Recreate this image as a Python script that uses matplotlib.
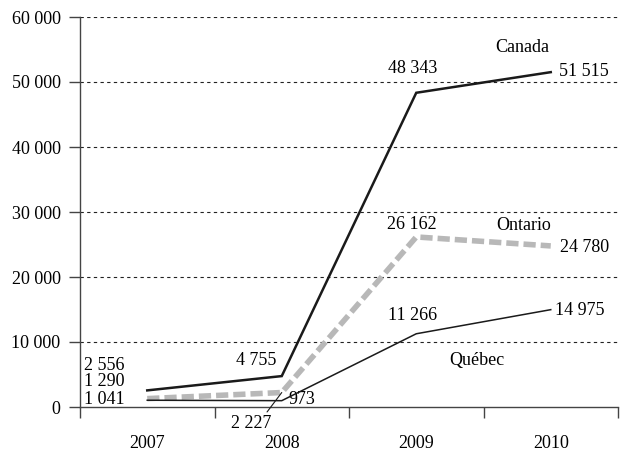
import matplotlib
matplotlib.use("Agg")
import matplotlib.pyplot as plt
from matplotlib.ticker import FixedLocator, FuncFormatter

years = ["2007", "2008", "2009", "2010"]
canada = [2556, 4755, 48343, 51515]
ontario = [1290, 2227, 26162, 24780]
quebec = [1041, 973, 11266, 14975]
y_ticks = [0, 10000, 20000, 30000, 40000, 50000, 60000]

plt.rcParams["font.family"] = ["Liberation Serif", "DejaVu Serif"]
plt.rcParams["font.size"] = 13


def fmt(v):
    return f"{int(v):,}".replace(",", " ")


fig = plt.figure(figsize=(6.23, 4.55), dpi=100)
ax = fig.add_axes([80 / 623, 1 - 407 / 455, 538 / 623, 390 / 455])

x = list(range(len(years)))
ax.plot(x, canada, color="#1a1a1a", lw=1.8, solid_joinstyle="miter", zorder=4)
ax.plot(x, ontario, color="#b8b8b8", lw=4, dashes=(2.2, 0.9), zorder=3)
ax.plot(x, quebec, color="#1a1a1a", lw=1.1, zorder=4)

ax.set_xlim(-0.5, 3.5)
ax.set_ylim(0, 60000)

# horizontal dashed reference lines
for t in y_ticks[1:]:
    ax.axhline(t, color="#222222", lw=0.8, dashes=(3, 3), zorder=1)

ax.yaxis.set_major_locator(FixedLocator(y_ticks))
ax.yaxis.set_major_formatter(FuncFormatter(lambda v, p: fmt(v)))
ax.tick_params(axis="y", length=8, width=1, color="#444444", pad=6)

ax.set_xticks(x)
ax.set_xticklabels(years)
ax.set_xticks([-0.5, 0.5, 1.5, 2.5, 3.5], minor=True)
ax.tick_params(axis="x", which="major", length=0, pad=20)
ax.tick_params(axis="x", which="minor", length=8, width=1, color="#444444",
               direction="out")

for side in ("top", "right"):
    ax.spines[side].set_visible(False)
for side in ("left", "bottom"):
    ax.spines[side].set_color("#444444")
    ax.spines[side].set_linewidth(1)

# value labels
ax.text(-0.468, 6460, fmt(canada[0]), ha="left", va="center")
ax.text(-0.468, 4000, fmt(ontario[0]), ha="left", va="center")
ax.text(-0.468, 1230, fmt(quebec[0]), ha="left", va="center")
ax.text(0.96, 7230, fmt(canada[1]), ha="right", va="center")
ax.annotate(fmt(ontario[1]), xy=(1, ontario[1]), xytext=(0.77, -2500),
            ha="center", va="center", annotation_clip=False,
            arrowprops=dict(arrowstyle="-", color="#1a1a1a", lw=0.8,
                            shrinkA=0, shrinkB=0,
                            relpos=(0.85, 1.0)))
ax.text(1.05, 1080, fmt(quebec[1]), ha="left", va="center", clip_on=False)
ax.text(1.97, 52150, fmt(canada[2]), ha="center", va="center")
ax.text(3.06, 51540, fmt(canada[3]), ha="left", va="center")
ax.text(1.97, 28150, fmt(ontario[2]), ha="center", va="center")
ax.text(3.07, 24600, fmt(ontario[3]), ha="left", va="center")
ax.text(1.97, 14150, fmt(quebec[2]), ha="center", va="center")
ax.text(3.03, 14920, fmt(quebec[3]), ha="left", va="center")

# series names
ax.text(2.79, 55380, "Canada", ha="center", va="center")
ax.text(2.80, 28000, "Ontario", ha="center", va="center")
ax.text(2.45, 7230, "Québec", ha="center", va="center")

fig.savefig("out.png", dpi=100)
